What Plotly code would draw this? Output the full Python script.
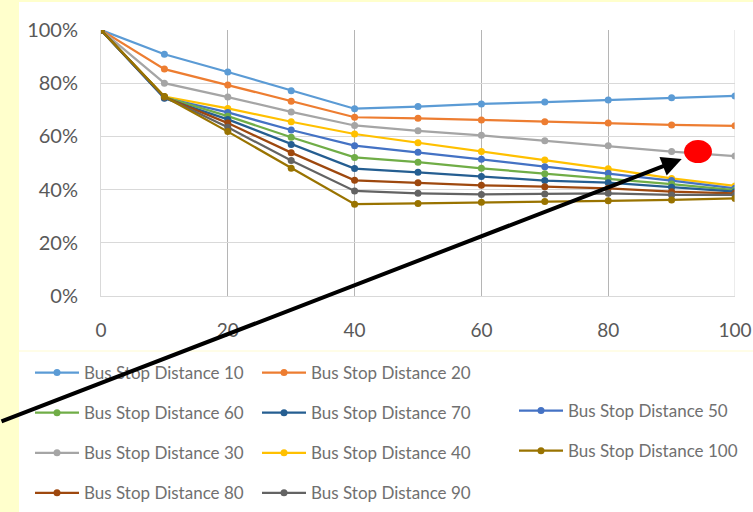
import plotly.graph_objects as go

# Distance along the route (x) and share remaining (%) for each bus-stop spacing
x_vals = [0, 10, 20, 30, 40, 50, 60, 70, 80, 90, 100]

d10 = [100, 90.9, 84.2, 77.2, 70.4, 71.2, 72.2, 72.9, 73.7, 74.5, 75.2]
d20 = [100, 85.3, 79.3, 73.2, 67.2, 66.8, 66.2, 65.5, 65.0, 64.3, 64.0]
d30 = [100, 80.0, 74.8, 69.2, 64.1, 62.1, 60.4, 58.4, 56.5, 54.3, 52.6]
d40 = [100, 75.0, 70.5, 65.5, 60.9, 57.6, 54.3, 51.1, 47.8, 44.2, 41.4]
d50 = [100, 74.5, 69.0, 62.4, 56.5, 54.0, 51.4, 48.6, 46.1, 43.4, 40.5]
d60 = [100, 74.8, 67.6, 59.7, 52.1, 50.3, 48.0, 46.0, 44.2, 42.1, 39.8]
d70 = [100, 74.3, 66.4, 57.0, 47.9, 46.5, 44.9, 43.4, 42.6, 40.9, 39.2]
d80 = [100, 74.8, 65.0, 53.9, 43.5, 42.6, 41.6, 41.1, 40.5, 39.2, 38.6]
d90 = [100, 74.8, 63.4, 50.9, 39.5, 38.6, 38.2, 38.3, 38.6, 38.0, 38.0]
d100 = [100, 75.0, 61.8, 48.0, 34.5, 34.8, 35.2, 35.5, 35.8, 36.1, 36.7]

series_names = ["Bus Stop Distance %d" % d for d in range(10, 101, 10)]
series_values = [d10, d20, d30, d40, d50, d60, d70, d80, d90, d100]
colors = ["#5B9BD5", "#ED7D31", "#A5A5A5", "#FFC000", "#4472C4",
          "#70AD47", "#255E91", "#9E480E", "#636363", "#997300"]

# legend column and row for each series
legend_ids = ["legend", "legend2", "legend", "legend2", "legend3",
              "legend", "legend2", "legend", "legend2", "legend3"]
legend_ranks = [1, 1, 3, 3, 1, 2, 2, 4, 4, 2]

y_ticks = [0, 20, 40, 60, 80, 100]
y_labels = ["0%", "20%", "40%", "60%", "80%", "100%"]
x_ticks = [0, 20, 40, 60, 80, 100]

fig = go.Figure()
for name, vals, col, lg, rk in zip(series_names, series_values, colors,
                                   legend_ids, legend_ranks):
    fig.add_trace(go.Scatter(
        x=x_vals, y=vals, name=name, mode="lines+markers",
        line=dict(color=col, width=2.25),
        marker=dict(color=col, size=7),
        legend=lg, legendrank=rk, legendgroup=name,
    ))

W, H = 753, 512
L, R, T, B = 101, 18, 30, 216
pw, ph = W - L - R, H - T - B


def px_x(p):
    return (p - L) / pw


def px_y(p):
    return (H - B - p) / ph


legend_common = dict(
    font=dict(family="Lato", size=17, color="#707070"),
    bgcolor="rgba(0,0,0,0)", orientation="v",
    xanchor="left", yanchor="top", tracegroupgap=15,
    itemwidth=44,
)

fig.update_layout(
    width=W, height=H,
    margin=dict(l=L, r=R, t=T, b=B, autoexpand=False),
    paper_bgcolor="#FFFFCC",
    plot_bgcolor="white",
    showlegend=True,
    legend=dict(x=px_x(30), y=px_y(355), **legend_common),
    legend2=dict(x=px_x(257), y=px_y(355), **legend_common),
    legend3=dict(x=px_x(514), y=px_y(393), **legend_common),
    xaxis=dict(
        range=[0, 100], tickvals=x_ticks, showgrid=True,
        gridcolor="#B5B5B5", gridwidth=1, zeroline=False,
        showline=True, linecolor="#D9D9D9", mirror=False,
        tickfont=dict(family="Lato", size=19, color="#595959"),
        ticklabelstandoff=17, automargin=False,
    ),
    yaxis=dict(
        range=[0, 100], tickvals=y_ticks, ticktext=y_labels,
        showgrid=True, gridcolor="#D9D9D9", gridwidth=1,
        zeroline=False, showline=True, linecolor="#D9D9D9",
        tickfont=dict(family="Lato", size=20, color="#595959"),
        ticklabelstandoff=18, automargin=False,
    ),
    shapes=[
        # white chart panel
        dict(type="rect", xref="paper", yref="paper",
             x0=px_x(19), x1=px_x(760), y0=px_y(520), y1=px_y(2),
             fillcolor="white", line=dict(width=0), layer="below"),
        # faint divider above the legend
        dict(type="line", xref="paper", yref="paper",
             x0=px_x(19), x1=px_x(753), y0=px_y(351), y1=px_y(351),
             line=dict(color="#FFFBD0", width=1)),
        # right edge of plot area
        dict(type="line", xref="x", yref="y", x0=100, x1=100, y0=0, y1=100,
             line=dict(color="#D9D9D9", width=1)),
        # red highlight ellipse
        dict(type="circle", xref="x", yref="y",
             x0=91.96, x1=96.37, y0=50.0, y1=58.6,
             fillcolor="#FF0000", line=dict(width=0), layer="above"),
    ],
    annotations=[
        dict(x=91.6, y=51.5, xref="x", yref="y", text="",
             showarrow=True, ax=-682, ay=263,
             arrowhead=2, arrowsize=1.0, arrowwidth=4,
             arrowcolor="black", standoff=0),
    ],
)

fig.write_html("out.html")
